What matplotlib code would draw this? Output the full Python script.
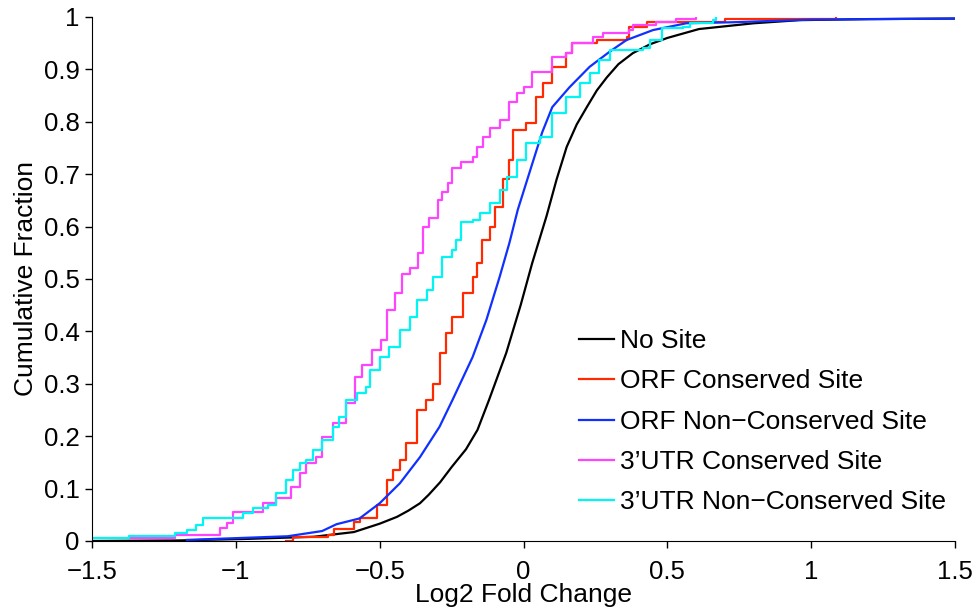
import numpy as np
import matplotlib
matplotlib.use("Agg")
import matplotlib.pyplot as plt

plt.rcParams['font.family'] = ['Liberation Sans', 'DejaVu Sans']

# curves (x = log2 fold change, y = cumulative fraction)
no_site_x = [-1.5, -1.2, -0.96, -0.73, -0.59, -0.5, -0.44, -0.40, -0.36, -0.33, -0.29, -0.25, -0.20,
             -0.16, -0.12, -0.06, -0.01, 0.03, 0.08, 0.115, 0.15, 0.185, 0.22, 0.255, 0.29, 0.33,
             0.38, 0.44, 0.5, 0.61, 0.8, 0.96, 1.2, 1.5]
no_site_y = [0.0, 0.001, 0.004, 0.008, 0.017, 0.033, 0.046, 0.058, 0.072, 0.088, 0.112, 0.141, 0.175,
             0.212, 0.269, 0.359, 0.45, 0.53, 0.62, 0.69, 0.752, 0.795, 0.828, 0.86, 0.885, 0.91,
             0.931, 0.948, 0.96, 0.977, 0.988, 0.994, 0.996, 0.997]

orf_nc_x = [-1.17, -0.82, -0.70, -0.65, -0.57, -0.5, -0.43, -0.36, -0.292, -0.247, -0.177, -0.129,
            -0.083, -0.049, -0.02, 0.031, 0.065, 0.10, 0.16, 0.23, 0.30, 0.358, 0.45, 0.566, 0.73,
            1.0, 1.5]
orf_nc_y = [0.002, 0.009, 0.019, 0.032, 0.043, 0.072, 0.11, 0.16, 0.218, 0.269, 0.351, 0.422,
            0.504, 0.569, 0.632, 0.721, 0.78, 0.828, 0.866, 0.905, 0.934, 0.956, 0.975, 0.988, 0.99,
            0.995, 0.997]

orf_c_x = [-0.825, -0.80, -0.68, -0.66, -0.59, -0.57, -0.51, -0.476, -0.455, -0.43, -0.407, -0.372,
           -0.338, -0.316, -0.292, -0.268, -0.247, -0.212, -0.177, -0.163, -0.146, -0.118, -0.10,
           -0.07, -0.049, -0.038, 0.01, 0.045, 0.066, 0.10, 0.149, 0.17, 0.254, 0.358, 0.368, 0.43,
           0.70, 1.088]
orf_c_y = [0.0, 0.007, 0.011, 0.023, 0.036, 0.044, 0.069, 0.116, 0.135, 0.155, 0.187, 0.25,
           0.269, 0.30, 0.358, 0.397, 0.428, 0.473, 0.504, 0.53, 0.574, 0.60, 0.638,
           0.69, 0.727, 0.784, 0.797, 0.847, 0.874, 0.905, 0.931, 0.95, 0.956, 0.962, 0.98, 0.99,
           0.996, 0.998]

utr_c_x = [-1.37, -1.21, -1.056, -1.03, -1.01, -0.907, -0.86, -0.81, -0.778, -0.755, -0.72, -0.70,
           -0.664, -0.616, -0.587, -0.563, -0.528, -0.494, -0.476, -0.448, -0.424, -0.396, -0.368,
           -0.35, -0.327, -0.299, -0.282, -0.264, -0.247, -0.216, -0.177, -0.16, -0.142, -0.118,
           -0.083, -0.049, -0.024, 0.003, 0.031, 0.10, 0.149, 0.167, 0.24, 0.275, 0.368, 0.379,
           0.462, 0.53, 0.60]
utr_c_y = [0.006, 0.011, 0.025, 0.034, 0.055, 0.072, 0.082, 0.103, 0.13, 0.149, 0.16, 0.198,
           0.225, 0.263, 0.313, 0.336, 0.365, 0.384, 0.441, 0.473, 0.51, 0.521, 0.55,
           0.60, 0.616, 0.651, 0.666, 0.683, 0.712, 0.723, 0.733, 0.752, 0.771, 0.788,
           0.803, 0.838, 0.855, 0.866, 0.895, 0.924, 0.931, 0.95, 0.962, 0.97, 0.975, 0.985,
           0.99, 0.996, 0.998]

utr_nc_x = [-1.5, -1.37, -1.21, -1.17, -1.14, -1.115, -1.01, -0.976, -0.94, -0.89, -0.86, -0.825,
            -0.80, -0.778, -0.755, -0.733, -0.70, -0.664, -0.64, -0.616, -0.58, -0.546, -0.535,
            -0.50, -0.466, -0.43, -0.396, -0.372, -0.337, -0.316, -0.285, -0.247, -0.233, -0.216,
            -0.177, -0.153, -0.118, -0.083, -0.059, -0.024, 0.01, 0.056, 0.10, 0.149, 0.195,
            0.23, 0.264, 0.30, 0.414, 0.438, 0.483, 0.553, 0.577, 0.657, 0.67]
utr_nc_y = [0.006, 0.01, 0.015, 0.021, 0.03, 0.044, 0.044, 0.053, 0.063, 0.069, 0.091, 0.116,
            0.135, 0.149, 0.155, 0.174, 0.193, 0.218, 0.237, 0.269, 0.282, 0.294, 0.326,
            0.351, 0.37, 0.403, 0.428, 0.46, 0.479, 0.504, 0.542, 0.555, 0.574, 0.609,
            0.613, 0.626, 0.645, 0.67, 0.695, 0.727, 0.76, 0.771, 0.817, 0.847, 0.874,
            0.893, 0.918, 0.937, 0.941, 0.956, 0.979, 0.981, 0.988, 0.994, 0.998]

labels = ["No Site", "ORF Conserved Site", "ORF Non\u2212Conserved Site",
          "3\u2019UTR Conserved Site", "3\u2019UTR Non\u2212Conserved Site"]

fig = plt.figure(figsize=(9.79, 6.11), dpi=100)
ax = fig.add_axes([0.094, 0.1146, 0.8815, 0.8576])

lw = 1.6
ax.plot(no_site_x, no_site_y, color='black', lw=lw, label=labels[0])
ax.plot(orf_c_x, orf_c_y, color='#ff2a00', lw=lw, drawstyle='steps-post', label=labels[1])
ax.plot(orf_nc_x, orf_nc_y, color='#1030ff', lw=lw, label=labels[2])
ax.plot(utr_c_x, utr_c_y, color='#ff44ff', lw=lw, drawstyle='steps-post', label=labels[3])
ax.plot(utr_nc_x, utr_nc_y, color='#00f5f5', lw=lw, drawstyle='steps-post', label=labels[4])

ax.set_xlim(-1.5, 1.5)
ax.set_ylim(0, 1)
ax.set_xticks([-1.5, -1, -0.5, 0, 0.5, 1, 1.5])
ax.set_xticklabels(["\u22121.5", "\u22121", "\u22120.5", "0", "0.5", "1", "1.5"])
ax.set_yticks(np.arange(0, 1.01, 0.1))
ax.set_yticklabels(["0"] + ["%.1f" % v for v in np.arange(0.1, 0.95, 0.1)] + ["1"])
ax.spines['top'].set_visible(False)
ax.spines['right'].set_visible(False)
ax.tick_params(direction='out', length=5, width=1, labelsize=18.5)
ax.tick_params(axis='y', pad=4)
ax.tick_params(axis='x', pad=9)
ax.set_xlabel("Log2 Fold Change", fontsize=19, labelpad=-1)
ax.set_ylabel("Cumulative Fraction", fontsize=19, labelpad=4)

ax.legend(loc='upper left', bbox_to_anchor=(0.591, 0.4615), bbox_transform=fig.transFigure,
          frameon=False, fontsize=19, handlelength=1.36, handletextpad=0.22,
          labelspacing=0.62, borderaxespad=0, borderpad=0)

fig.savefig("out.png", dpi=100)
